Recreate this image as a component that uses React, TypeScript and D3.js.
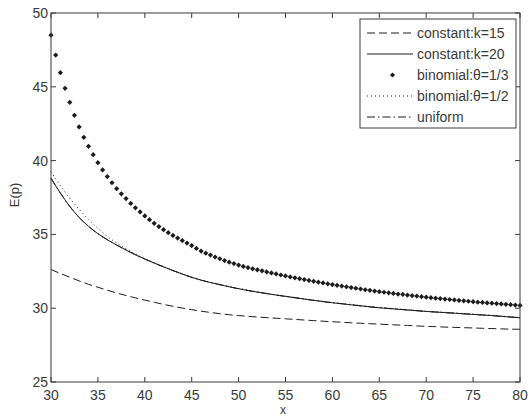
import React from 'react'
import * as d3 from 'd3'

// x positions for the line series (integer steps) and the binomial 1/3 markers (half steps)
const xLine = d3.range(30, 81)
const xHalf = d3.range(0, 101).map(i => 30 + i / 2)

const constK15 = [
  32.62, 32.35, 32.1, 31.85, 31.62, 31.42, 31.22, 31.03, 30.86, 30.7,
  30.55, 30.4, 30.26, 30.13, 30.01, 29.9, 29.8, 29.71, 29.63, 29.56,
  29.5, 29.45, 29.4, 29.36, 29.32, 29.28, 29.24, 29.2, 29.16, 29.12,
  29.08, 29.05, 29.01, 28.98, 28.95, 28.92, 28.89, 28.86, 28.83, 28.8,
  28.77, 28.75, 28.72, 28.7, 28.68, 28.66, 28.64, 28.62, 28.6, 28.58,
  28.57,
]

const constK20 = [
  38.8, 37.8, 36.9, 36.15, 35.55, 35.05, 34.64, 34.28, 33.94, 33.62,
  33.33, 33.06, 32.8, 32.55, 32.31, 32.09, 31.9, 31.74, 31.59, 31.45,
  31.32, 31.2, 31.09, 30.99, 30.89, 30.8, 30.71, 30.62, 30.53, 30.45,
  30.37, 30.3, 30.23, 30.16, 30.09, 30.03, 29.98, 29.93, 29.88, 29.83,
  29.78, 29.74, 29.7, 29.66, 29.62, 29.58, 29.54, 29.5, 29.45, 29.4,
  29.35,
]

const binomThird = [
  48.5, 47.15, 45.96, 44.9, 43.95, 43.07, 42.28, 41.58, 40.97, 40.4,
  39.86, 39.37, 38.92, 38.5, 38.1, 37.75, 37.43, 37.1, 36.8, 36.52,
  36.25, 36.0, 35.75, 35.53, 35.32, 35.12, 34.93, 34.75, 34.58, 34.41,
  34.24, 34.05, 33.87, 33.73, 33.6, 33.47, 33.35, 33.23, 33.12, 33.02,
  32.92, 32.83, 32.75, 32.67, 32.6, 32.53, 32.46, 32.39, 32.32, 32.25,
  32.19, 32.12, 32.06, 32.0, 31.94, 31.88, 31.82, 31.76, 31.71, 31.65,
  31.6, 31.55, 31.5, 31.45, 31.4, 31.35, 31.3, 31.25, 31.21, 31.16,
  31.12, 31.08, 31.04, 31.0, 30.96, 30.93, 30.89, 30.85, 30.82, 30.78,
  30.75, 30.71, 30.68, 30.65, 30.62, 30.59, 30.56, 30.53, 30.5, 30.47,
  30.44, 30.41, 30.39, 30.36, 30.34, 30.31, 30.29, 30.26, 30.24, 30.21,
  30.19,
]

const binomHalf = [
  39.25, 38.3, 37.45, 36.7, 36.02, 35.42, 34.87, 34.42, 34.02, 33.67,
  33.36, 33.08, 32.82, 32.57, 32.33, 32.11, 31.92, 31.76, 31.61, 31.47,
  31.34, 31.22, 31.11, 31.01, 30.91, 30.82, 30.73, 30.64, 30.55, 30.47,
  30.39, 30.32, 30.25, 30.18, 30.11, 30.05, 30.0, 29.95, 29.9, 29.85,
  29.8, 29.76, 29.72, 29.68, 29.64, 29.6, 29.56, 29.52, 29.47, 29.42,
  29.37,
]

const uniform = constK20.slice()

const xTicks = [30, 35, 40, 45, 50, 55, 60, 65, 70, 75, 80]
const yTicks = [25, 30, 35, 40, 45, 50]

const legendItems = [
  { label: 'constant:k=15', dash: '8,4' },
  { label: 'constant:k=20', dash: null },
  { label: 'binomial:\u03b8=1/3', dash: 'marker' },
  { label: 'binomial:\u03b8=1/2', dash: '1,3' },
  { label: 'uniform', dash: '8,3,1.5,3' },
]

const W = 529
const H = 416
const left = 51, right = 520, top = 13, bottom = 382
const font = '"Liberation Sans", Arial, sans-serif'
const ink = '#1c1c1c'
const axisCol = '#3a3a3a'
const textCol = '#3a3a3a'

const x = d3.scaleLinear().domain([30, 80]).range([left, right])
const y = d3.scaleLinear().domain([25, 50]).range([bottom, top])

const line = d3.line<number>()
  .x((d, i) => x(xLine[i]))
  .y(d => y(d))
  .curve(d3.curveMonotoneX)

const diamond = (cx: number, cy: number, r: number) =>
  `M${cx},${cy - r}L${cx + r},${cy}L${cx},${cy + r}L${cx - r},${cy}Z`

export default function App() {
  const lgX = 360, lgY = 19, lgW = 156, lgH = 109
  const rowY = (i: number) => 33 + i * 21

  return (
    <svg width={W} height={H} style={{ position: 'absolute', left: 0, top: 0, background: '#fff' }}>
      <rect x={0} y={0} width={W} height={H} fill="#fff" />

      <g fill="none" stroke={ink} strokeWidth={1}>
        <path d={line(uniform) || ''} strokeDasharray="8,3,1.5,3" />
        <path d={line(binomHalf) || ''} strokeDasharray="1,3" />
        <path d={line(constK20) || ''} />
        <path d={line(constK15) || ''} strokeDasharray="8,4" />
      </g>

      <g fill={ink}>
        {binomThird.map((v, i) => (
          <path key={i} d={diamond(x(xHalf[i]), y(v), 2.6)} />
        ))}
      </g>

      {/* axes box with inward ticks */}
      <rect x={left} y={top} width={right - left} height={bottom - top} fill="none" stroke={axisCol} strokeWidth={1} />
      <g stroke={axisCol} strokeWidth={1}>
        {xTicks.map(t => (
          <g key={'x' + t}>
            <line x1={x(t)} x2={x(t)} y1={bottom} y2={bottom - 5} />
            <line x1={x(t)} x2={x(t)} y1={top} y2={top + 5} />
          </g>
        ))}
        {yTicks.map(t => (
          <g key={'y' + t}>
            <line x1={left} x2={left + 5} y1={y(t)} y2={y(t)} />
            <line x1={right} x2={right - 5} y1={y(t)} y2={y(t)} />
          </g>
        ))}
      </g>
      <g fontFamily={font} fontSize={14} fill={textCol}>
        {xTicks.map(t => (
          <text key={'xl' + t} x={x(t)} y={bottom + 18} textAnchor="middle">{t}</text>
        ))}
        {yTicks.map(t => (
          <text key={'yl' + t} x={left - 3} y={y(t) + 5} textAnchor="end">{t}</text>
        ))}
        <text x={283} y={414} textAnchor="middle" fontSize={12}>x</text>
        <text transform={`translate(19,195) rotate(-90)`} textAnchor="middle" fontSize={13}>E(p)</text>
      </g>

      {/* legend */}
      <rect x={lgX} y={lgY} width={lgW} height={lgH} fill="#fff" stroke={axisCol} strokeWidth={1} />
      {legendItems.map((it, i) => (
        <g key={it.label}>
          {it.dash === 'marker'
            ? <path d={diamond(392.5, rowY(i), 2.6)} fill={ink} />
            : <line x1={367} x2={413} y1={rowY(i)} y2={rowY(i)} stroke={ink} strokeWidth={1}
                strokeDasharray={it.dash || undefined} />}
          <text x={417} y={rowY(i) + 5} fontFamily={font} fontSize={14} fill={textCol}>{it.label}</text>
        </g>
      ))}
    </svg>
  )
}
